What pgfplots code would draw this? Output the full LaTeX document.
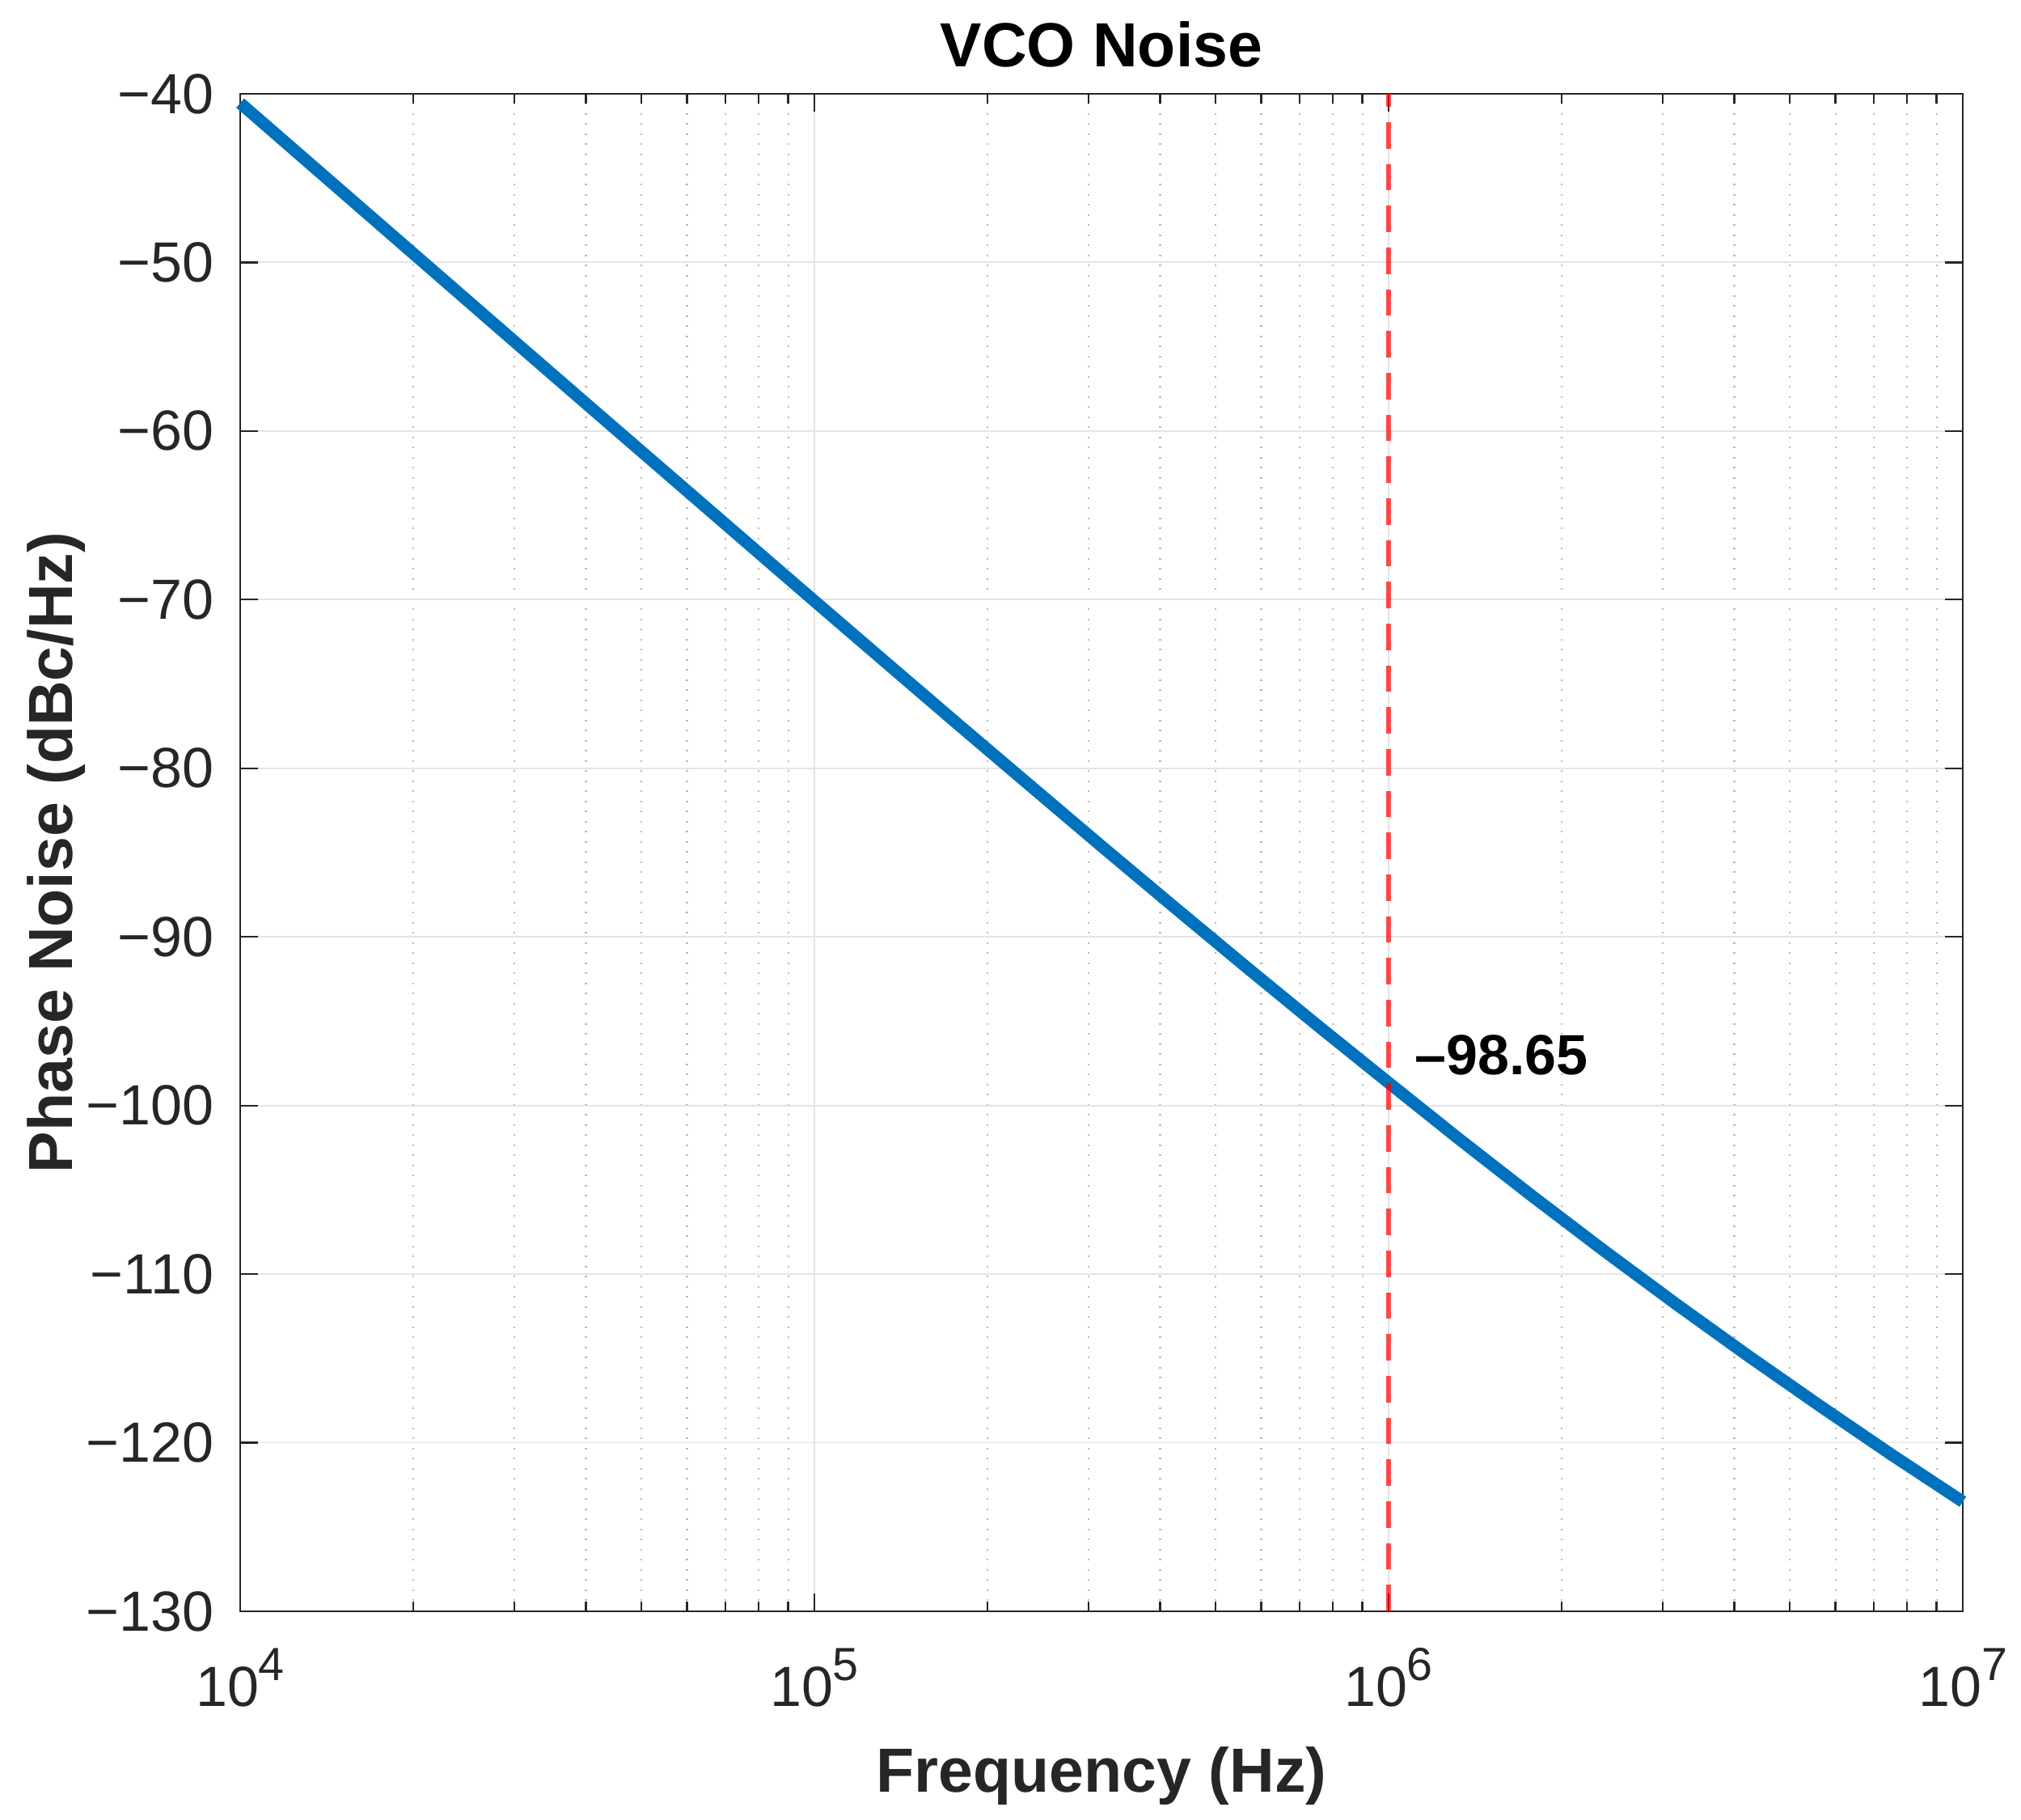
\documentclass[border=0pt]{standalone}
\usepackage{fontspec}
\setmainfont{Liberation Sans}
\usepackage{pgfplots}
\pgfplotsset{compat=1.18}
\definecolor{mblue}{RGB}{0,114,189}
\definecolor{axgray}{RGB}{38,38,38}
\definecolor{majgrid}{RGB}{228,228,228}
\definecolor{mingrid}{RGB}{185,185,185}
\newcommand{\tenpow}[1]{10\raisebox{0.47em}{\fontsize{13.8}{16}\selectfont #1}}
\begin{document}
\begin{tikzpicture}
\path[use as bounding box] (-71.28pt,-61.92pt) rectangle (528.48pt,478.08pt);
\begin{axis}[
  at={(0pt,0pt)}, anchor=south west,
  scale only axis=true,
  width=511.2pt, height=450.24pt,
  xmode=log,
  xmin=1e4, xmax=1e7, ymin=-130, ymax=-40,
  clip=false,
  xtick={1e4,1e5,1e6,1e7},
  xticklabels={\tenpow{4},\tenpow{5},\tenpow{6},\tenpow{7}},
  minor xtick={2e4,3e4,4e4,5e4,6e4,7e4,8e4,9e4,2e5,3e5,4e5,5e5,6e5,7e5,8e5,9e5,2e6,3e6,4e6,5e6,6e6,7e6,8e6,9e6},
  ytick={-130,-120,-110,-100,-90,-80,-70,-60,-50,-40},
  yticklabels={−130,−120,−110,−100,−90,−80,−70,−60,−50,−40},
  minor ytick={},
  tick align=inside,
  major tick length=5.2pt,
  minor tick length=2.8pt,
  every tick/.style={axgray, line width=0.55pt},
  axis line style={axgray, line width=0.55pt},
  xmajorgrids=true, ymajorgrids=true, xminorgrids=true,
  major grid style={majgrid, line width=0.45pt},
  minor grid style={mingrid, line width=0.5pt, dash pattern=on 0.5pt off 2.5pt},
  tick label style={font=\fontsize{16.8}{20}\selectfont, text=axgray},
  xticklabel style={anchor=base, yshift=-28.3pt},
  yticklabel style={anchor=east, inner sep=0pt, xshift=-7.7pt},
  xlabel={Frequency (Hz)},
  ylabel={Phase Noise (dBc/Hz)},
  xlabel style={at={(axis description cs:0.5,-0.1189)}, anchor=base, font=\bfseries\fontsize{18.5}{22}\selectfont, text=axgray},
  ylabel style={at={(axis description cs:-0.0975,0.5)}, anchor=base, font=\bfseries\fontsize{18.5}{22}\selectfont, text=axgray},
  title={VCO Noise},
  title style={at={(axis description cs:0.5,1.0043)}, anchor=base, font=\bfseries\fontsize{18.5}{22}\selectfont, text=black},
]
\addplot[mblue, line width=3.6pt] coordinates {
(10000,-40.55) (13335.2,-44.25) (17782.8,-47.95) (23713.7,-51.65)
(31622.8,-55.35) (42169.7,-59.04) (56234.1,-62.72) (74989.4,-66.40)
(100000,-70.08) (133352,-73.74) (177828,-77.39) (237137,-81.01)
(316228,-84.62) (421697,-88.19) (562341,-91.73) (749894,-95.22)
(1000000,-98.65) (1333521,-102.05) (1778279,-105.37) (2371374,-108.61)
(3162278,-111.76) (4216965,-114.82) (5623413,-117.79) (7498942,-120.69)
(10000000,-123.50)
};
\addplot[red, opacity=0.7, line width=1.4pt, dash pattern=on 7.8pt off 4.6pt] coordinates {(1e6,-130) (1e6,-40)};
\node[anchor=base west, inner sep=0pt, font=\bfseries\fontsize{16.8}{20}\selectfont, text=black] at (axis cs:1.108e6,-98.16) {\textendash98.65};
\end{axis}
\end{tikzpicture}
\end{document}
